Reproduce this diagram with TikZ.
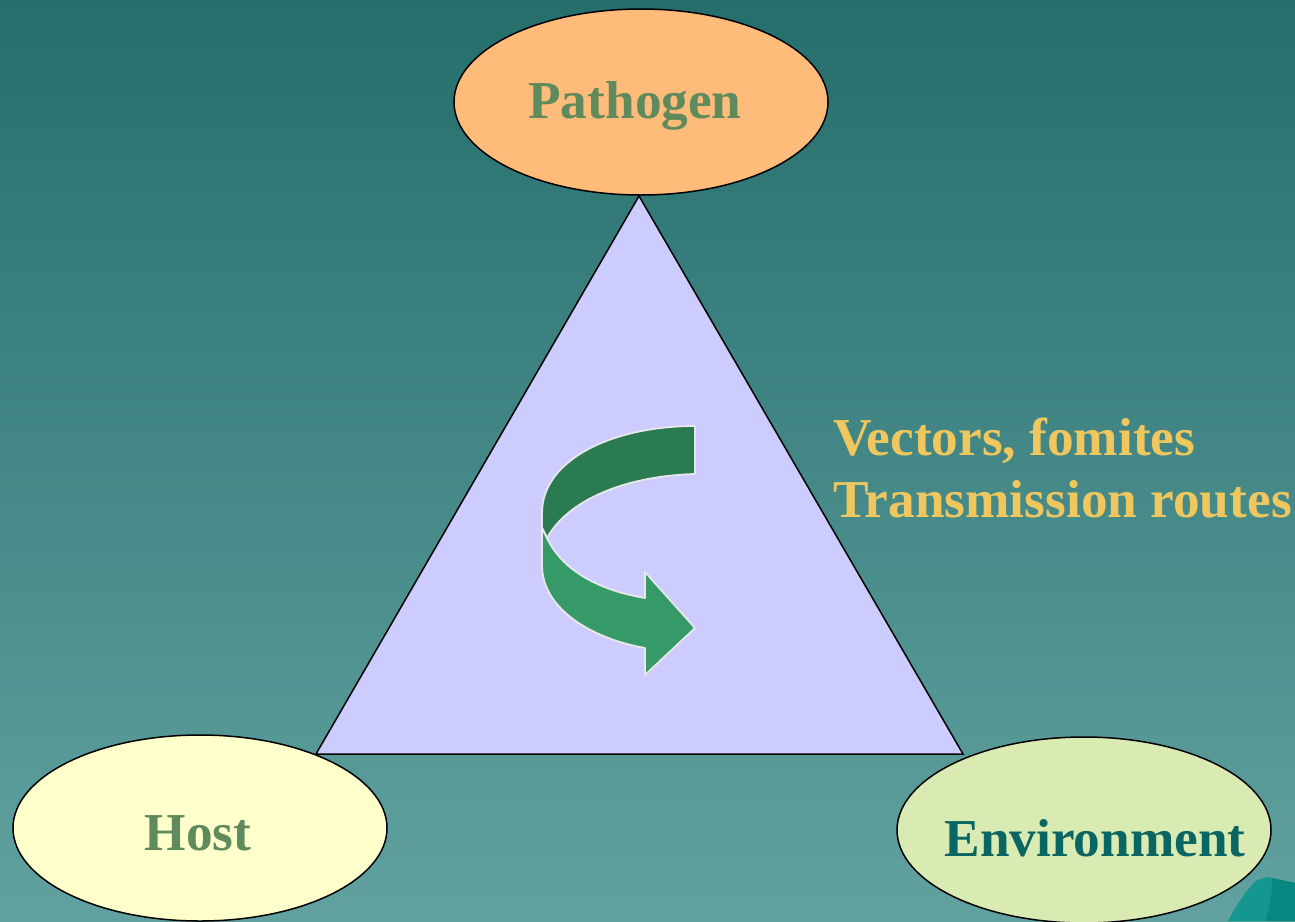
\documentclass[tikz,border=0pt]{standalone}
\usepackage{fontspec}
\setmainfont{Liberation Serif}
\usetikzlibrary{shapes.geometric}
\definecolor{bgtop}{RGB}{37,110,108}
\definecolor{bgbot}{RGB}{97,162,160}
\definecolor{pathfill}{RGB}{255,187,122}
\definecolor{hostfill}{RGB}{255,255,204}
\definecolor{envfill}{RGB}{218,234,179}
\definecolor{trifill}{RGB}{204,204,255}
\definecolor{labgreen}{RGB}{94,138,92}
\definecolor{labteal}{RGB}{10,102,98}
\definecolor{labgold}{RGB}{240,199,94}
\definecolor{arrdark}{RGB}{42,122,82}
\definecolor{arrlight}{RGB}{53,154,104}
\definecolor{arredge}{RGB}{232,232,232}
\definecolor{decolight}{RGB}{20,150,145}
\definecolor{decodark}{RGB}{8,134,129}
\begin{document}
\begin{tikzpicture}[x=1pt,y=-1pt,
  oval/.style={ellipse, draw=black, line width=1.5pt, inner sep=0pt,
    minimum width=374pt, minimum height=186pt},
  lab/.style={font=\fontsize{53.3}{62}\selectfont\bfseries, anchor=base, inner sep=0pt},
  ribbon/.style={draw=arredge, line width=1.8pt, line join=round}]
\shade[top color=bgtop, bottom color=bgbot] (0,0) rectangle (1295,921);
\useasboundingbox (0,0) rectangle (1295,921);
% corner decoration
\fill[decolight] (1228,921) .. controls (1238,902) and (1248,888) .. (1257,880)
  -- (1268,877) -- (1295,883) -- (1295,921) -- cycle;
\fill[decodark] (1272,878) -- (1295,883) -- (1295,921) -- (1266,921)
  .. controls (1270,905) and (1273,890) .. (1272,878) -- cycle;
% ellipses
\node[oval, fill=pathfill] (pathogen) at (641,102) {};
\node[oval, fill=hostfill] (host) at (200,828) {};
\node[oval, fill=envfill] (env) at (1084,830) {};
% triangle
\coordinate (ta) at (639,196);
\coordinate (tl) at (316,754);
\coordinate (tr) at (963,754);
\filldraw[fill=trifill, draw=black, line width=1.5pt, line join=miter] (ta) -- (tl) -- (tr) -- cycle;
% labels
\node[lab, text=labgreen] (pathogenlabel) at (635,118) {Pathogen};
\node[lab, text=labgreen] (hostlabel) at (198,850) {Host};
\node[lab, text=labteal] (envlabel) at (1095,856) {Environment};
\node[lab, text=labgold, anchor=base west] (vec) at (833,455) {Vectors, fomites};
\node[lab, text=labgold, anchor=base west] (trans) at (833,517) {Transmission routes};
% curved arrow (ribbon)
\coordinate (a1) at (695,426);
\coordinate (a2) at (695,474);
\coordinate (a3) at (542,513);
\coordinate (a4) at (542,528);
\coordinate (a5) at (547,538);
\filldraw[ribbon, fill=arrdark] (a1) -- (a2)
  .. controls (625,476) and (568,500) .. (a5) -- (a4) -- (a3)
  .. controls (542,460) and (612,426) .. (a1) -- cycle;
\coordinate (b1) at (645,648);
\coordinate (b2) at (645,675);
\coordinate (b3) at (695,628);
\coordinate (b4) at (645,572);
\coordinate (b5) at (645,598);
\filldraw[ribbon, fill=arrlight] (a4) -- (542,565)
  .. controls (542,612) and (598,640) .. (b1) -- (b2) -- (b3) -- (b4) -- (b5)
  .. controls (598,590) and (562,570) .. (a5) -- cycle;
\end{tikzpicture}
\end{document}
